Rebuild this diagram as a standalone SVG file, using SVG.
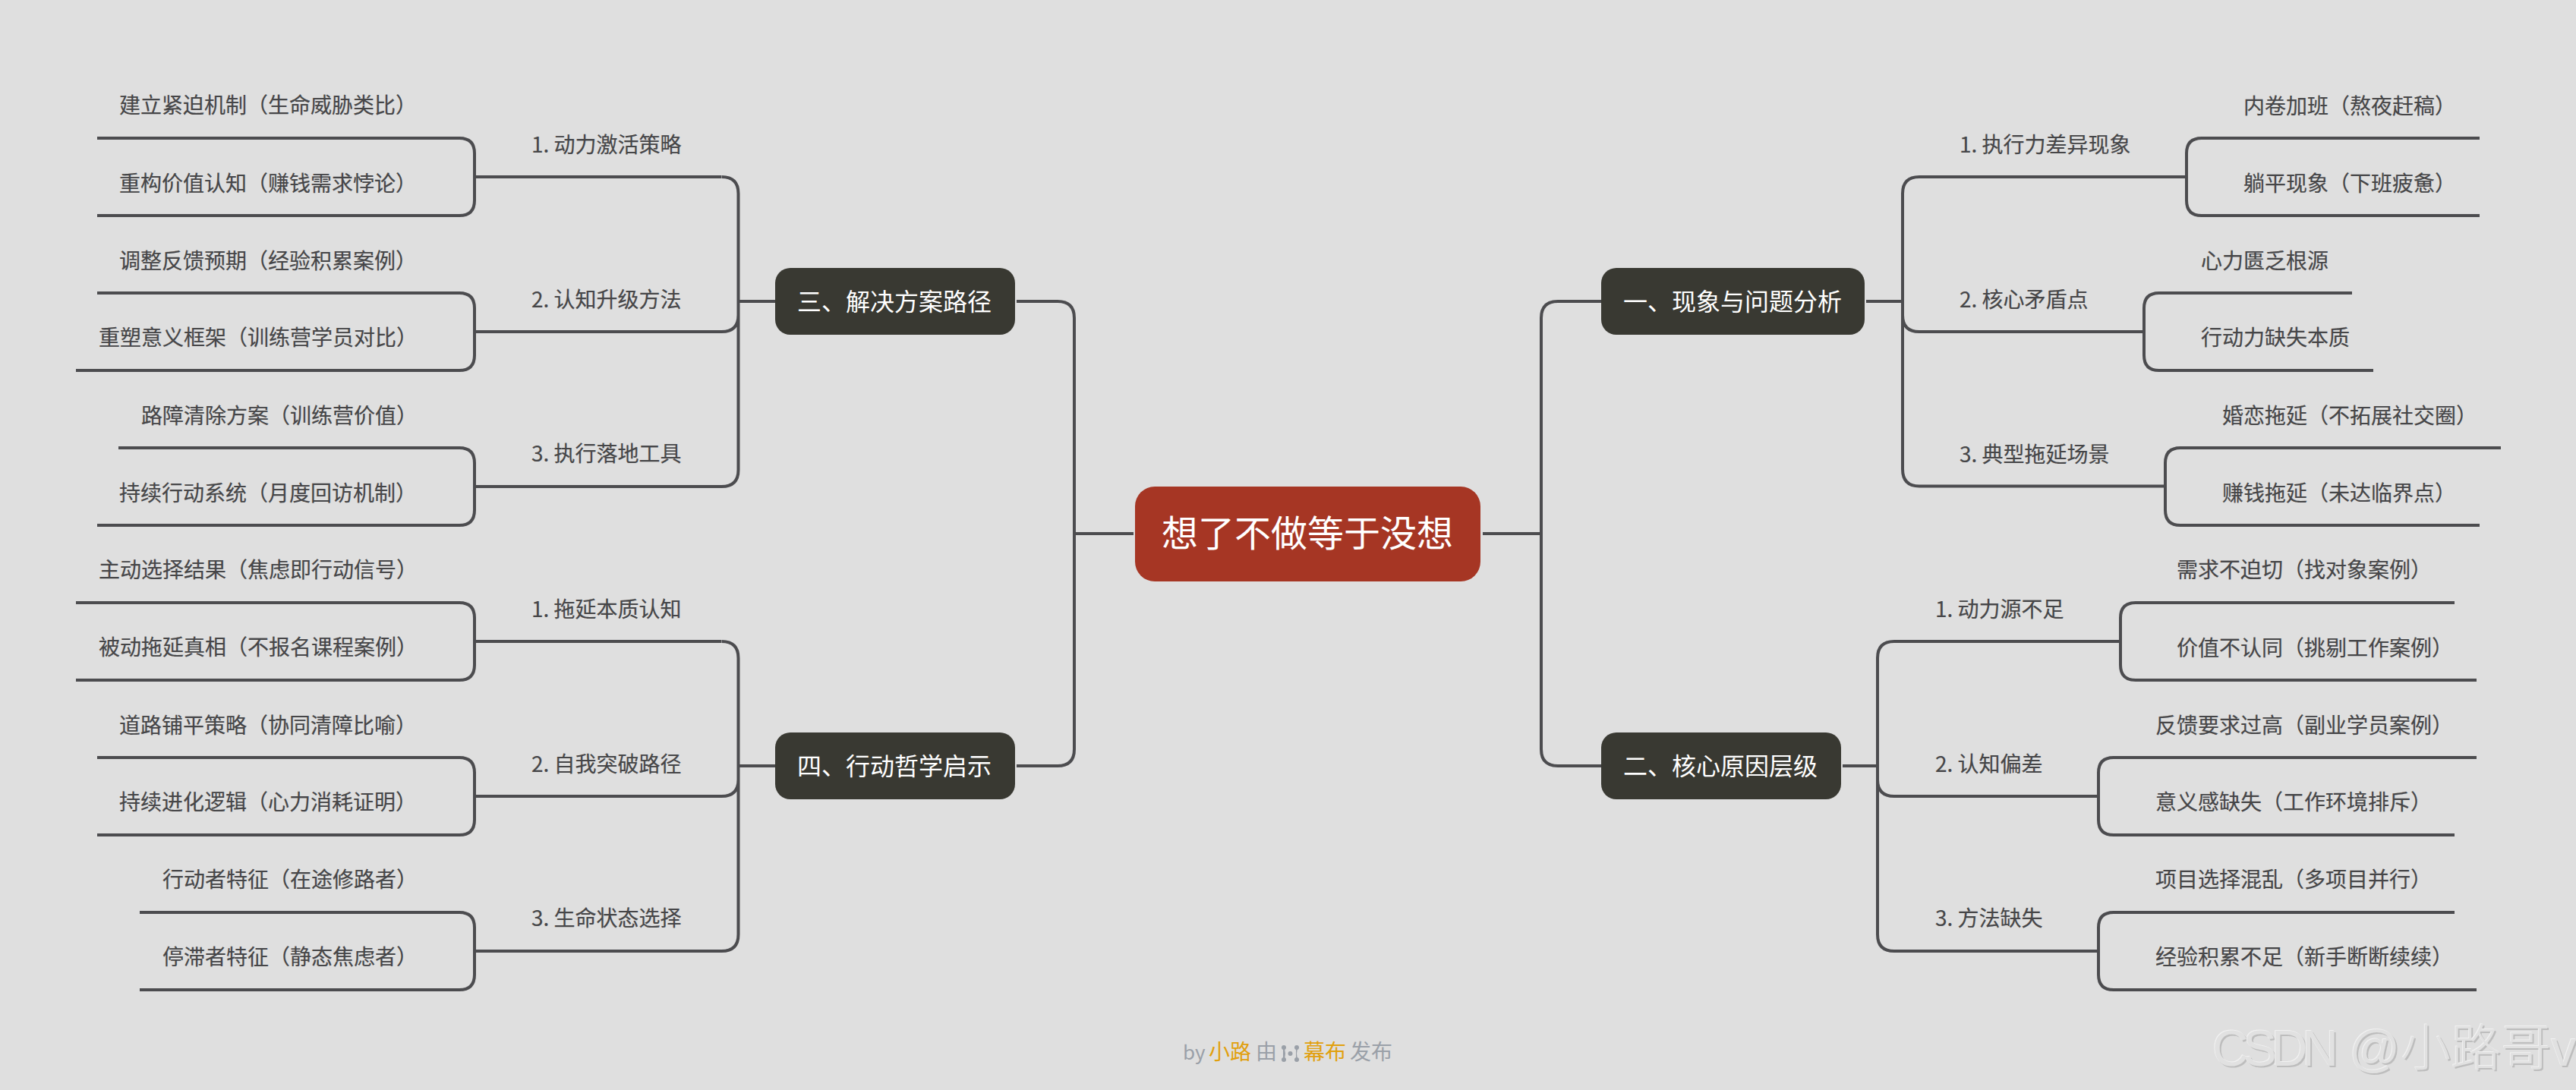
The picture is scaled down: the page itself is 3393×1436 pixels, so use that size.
<svg xmlns="http://www.w3.org/2000/svg" width="3393" height="1436" viewBox="0 0 3393 1436">
<style>
text{font-family:"Noto Sans CJK SC","Noto Sans",sans-serif}
.l{fill:none;stroke:#4c4c4f;stroke-width:4}
.t{font-size:28px;fill:#464648;dominant-baseline:central;stroke:#464648;stroke-width:.2}
.m{font-size:32px;fill:#fff;dominant-baseline:central;text-anchor:middle}
.g{fill:#9aa0a8}.o{fill:#e1a00e}
</style>
<defs>
<filter id="emboss" x="-5%" y="-20%" width="110%" height="140%">
<feFlood flood-color="#bdbdbd" result="d"/>
<feOffset in="SourceAlpha" dx="1.500" dy="1.500" result="da"/>
<feComposite in="d" in2="da" operator="in" result="ds"/>
<feFlood flood-color="#f1f1f1" result="h"/>
<feOffset in="SourceAlpha" dx="-1" dy="-1" result="ha"/>
<feComposite in="h" in2="ha" operator="in" result="hs"/>
<feMerge><feMergeNode in="ds"/><feMergeNode in="hs"/><feMergeNode in="SourceGraphic"/></feMerge>
</filter>
</defs>
<rect width="3393" height="1436" fill="#dfdfdf"/>
<g id="connectors" class="l">
<path d="M1953 703H2030M2109 397H2052Q2030 397 2030 419V987Q2030 1009 2052 1009H2109"/>
<path d="M1493 703H1415M1339 397H1393Q1415 397 1415 419V987Q1415 1009 1393 1009H1339"/>
<path d="M2458 397H2506M2566 233H2528Q2506 233 2506 255V618Q2506 640.500 2528 640.500H2852M2506 415Q2506 437 2528 437H2824M2566 233H2880"/>
<path d="M3266 182H2900Q2880 182 2880 202V264Q2880 284 2900 284H3266"/>
<path d="M3098 386H2844Q2824 386 2824 406V468Q2824 488 2844 488H3126"/>
<path d="M3294 590H2872Q2852 590 2852 610V672Q2852 692 2872 692H3266"/>
<path d="M2427 1009H2473M2500 845H2495Q2473 845 2473 867V1231Q2473 1253 2495 1253H2764M2473 1027Q2473 1049 2495 1049H2764M2500 845H2793"/>
<path d="M3233 794H2813Q2793 794 2793 814V876Q2793 896 2813 896H3262"/>
<path d="M3262 998H2784Q2764 998 2764 1018V1080Q2764 1100 2784 1100H3233"/>
<path d="M3233 1202H2784Q2764 1202 2764 1222V1284Q2764 1304 2784 1304H3262"/>
<path d="M1021 397H972.500M950 233H625M972.500 255Q972.500 233 950.500 233M972.500 255V619Q972.500 641 950.500 641H625M972.500 415Q972.500 437 950.500 437H625"/>
<path d="M128 182H605Q625 182 625 202V264Q625 284 605 284H128"/>
<path d="M128 386H605Q625 386 625 406V468Q625 488 605 488H100"/>
<path d="M156 590H605Q625 590 625 610V672Q625 692 605 692H128"/>
<path d="M1021 1009H972.500M950 845H625M972.500 867Q972.500 845 950.500 845M972.500 867V1231Q972.500 1253 950.500 1253H625M972.500 1027Q972.500 1049 950.500 1049H625"/>
<path d="M100 794H605Q625 794 625 814V876Q625 896 605 896H100"/>
<path d="M128 998H605Q625 998 625 1018V1080Q625 1100 605 1100H128"/>
<path d="M184 1202H605Q625 1202 625 1222V1284Q625 1304 605 1304H184"/>
</g>
<g id="root"><rect x="1495" y="641" width="455" height="125" rx="26" fill="#a63624"/><text x="1722" y="699" font-size="48" fill="#fff" text-anchor="middle" dominant-baseline="central">想了不做等于没想</text></g>
<g id="n1"><rect x="2109" y="353" width="347" height="88" rx="20" fill="#393932"/><text class="m" x="2282" y="395">一、现象与问题分析</text></g>
<g id="n2"><rect x="2109" y="965" width="316" height="88" rx="20" fill="#393932"/><text class="m" x="2266" y="1007">二、核心原因层级</text></g>
<g id="n3"><rect x="1021" y="353" width="316" height="88" rx="20" fill="#393932"/><text class="m" x="1178" y="395">三、解决方案路径</text></g>
<g id="n4"><rect x="1021" y="965" width="316" height="88" rx="20" fill="#393932"/><text class="m" x="1178" y="1007">四、行动哲学启示</text></g>
<g id="n1-1"><text class="t" x="2581" y="189">1. 执行力差异现象</text></g>
<g id="n1-1-1"><text class="t" x="2955" y="138">内卷加班（熬夜赶稿）</text></g>
<g id="n1-1-2"><text class="t" x="2955" y="240">躺平现象（下班疲惫）</text></g>
<g id="n1-2"><text class="t" x="2581" y="393">2. 核心矛盾点</text></g>
<g id="n1-2-1"><text class="t" x="2899" y="342">心力匮乏根源</text></g>
<g id="n1-2-2"><text class="t" x="2899" y="443">行动力缺失本质</text></g>
<g id="n1-3"><text class="t" x="2581" y="597">3. 典型拖延场景</text></g>
<g id="n1-3-1"><text class="t" x="2927" y="546">婚恋拖延（不拓展社交圈）</text></g>
<g id="n1-3-2"><text class="t" x="2927" y="648">赚钱拖延（未达临界点）</text></g>
<g id="n2-1"><text class="t" x="2549" y="801">1. 动力源不足</text></g>
<g id="n2-1-1"><text class="t" x="2867" y="749">需求不迫切（找对象案例）</text></g>
<g id="n2-1-2"><text class="t" x="2867" y="852">价值不认同（挑剔工作案例）</text></g>
<g id="n2-2"><text class="t" x="2549" y="1005">2. 认知偏差</text></g>
<g id="n2-2-1"><text class="t" x="2839" y="954">反馈要求过高（副业学员案例）</text></g>
<g id="n2-2-2"><text class="t" x="2839" y="1055">意义感缺失（工作环境排斥）</text></g>
<g id="n2-3"><text class="t" x="2549" y="1208">3. 方法缺失</text></g>
<g id="n2-3-1"><text class="t" x="2839" y="1157">项目选择混乱（多项目并行）</text></g>
<g id="n2-3-2"><text class="t" x="2839" y="1259">经验积累不足（新手断断续续）</text></g>
<g id="n3-1"><text class="t" x="700" y="189">1. 动力激活策略</text></g>
<g id="n3-1-1"><text class="t" x="157" y="137">建立紧迫机制（生命威胁类比）</text></g>
<g id="n3-1-2"><text class="t" x="157" y="240">重构价值认知（赚钱需求悖论）</text></g>
<g id="n3-2"><text class="t" x="700" y="393">2. 认知升级方法</text></g>
<g id="n3-2-1"><text class="t" x="157" y="342">调整反馈预期（经验积累案例）</text></g>
<g id="n3-2-2"><text class="t" x="130" y="443">重塑意义框架（训练营学员对比）</text></g>
<g id="n3-3"><text class="t" x="700" y="596">3. 执行落地工具</text></g>
<g id="n3-3-1"><text class="t" x="186" y="546">路障清除方案（训练营价值）</text></g>
<g id="n3-3-2"><text class="t" x="157" y="648">持续行动系统（月度回访机制）</text></g>
<g id="n4-1"><text class="t" x="700" y="801">1. 拖延本质认知</text></g>
<g id="n4-1-1"><text class="t" x="130" y="749">主动选择结果（焦虑即行动信号）</text></g>
<g id="n4-1-2"><text class="t" x="130" y="851">被动拖延真相（不报名课程案例）</text></g>
<g id="n4-2"><text class="t" x="700" y="1005">2. 自我突破路径</text></g>
<g id="n4-2-1"><text class="t" x="157" y="954">道路铺平策略（协同清障比喻）</text></g>
<g id="n4-2-2"><text class="t" x="157" y="1055">持续进化逻辑（心力消耗证明）</text></g>
<g id="n4-3"><text class="t" x="700" y="1208">3. 生命状态选择</text></g>
<g id="n4-3-1"><text class="t" x="214" y="1157">行动者特征（在途修路者）</text></g>
<g id="n4-3-2"><text class="t" x="214" y="1259">停滞者特征（静态焦虑者）</text></g>
<g id="footer" font-size="28">
<text class="g" x="1558" y="1396" font-size="26">by</text>
<text class="o" x="1592" y="1396">小路</text>
<text class="g" x="1654" y="1396">由</text>
<g class="g"><circle cx="1691" cy="1380" r="3"/><circle cx="1691" cy="1396" r="3"/><circle cx="1699.500" cy="1388" r="3"/><circle cx="1708" cy="1380" r="3"/><circle cx="1708" cy="1396" r="3"/><path d="M1690 1381h2l1 7-1 8h-2zM1707 1381h2l-1 7 1 8h-2z"/></g>
<text class="o" x="1717" y="1396">幕布</text>
<text class="g" x="1778" y="1396">发布</text>
</g>
<g id="watermark"><text x="2914" y="1404" font-size="66" font-weight="300" fill="#e1e1e1" filter="url(#emboss)" style="font-family:'Liberation Sans','Noto Sans CJK SC',sans-serif"><tspan letter-spacing="-7" word-spacing="10">CSDN @</tspan><tspan dx="8">小路哥v</tspan></text></g>
</svg>
